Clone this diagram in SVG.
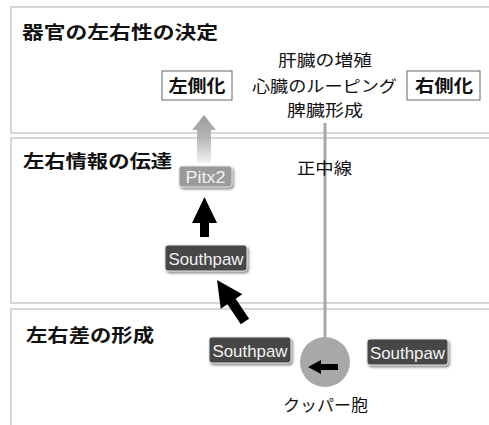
<svg xmlns="http://www.w3.org/2000/svg" width="489" height="425" viewBox="0 0 489 425">
<style>
.panel{fill:#fff;stroke:#d6d6d6;stroke-width:2}
.title{font-family:"Noto Sans CJK JP","Noto Sans CJK SC",sans-serif;font-weight:bold;font-size:18px;fill:#111}
.lbl{font-family:"Noto Sans CJK JP","Noto Sans CJK SC",sans-serif;font-size:16px;fill:#111}
.blbl{font-family:"Noto Sans CJK JP","Noto Sans CJK SC",sans-serif;font-weight:bold;font-size:17px;fill:#111}
.wbox{fill:#fff;stroke:#666;stroke-width:1}
.chip{stroke:#e6e6e6;stroke-width:1;filter:url(#sh)}
.chiptxt{font-family:"Liberation Sans",Arial,sans-serif;font-size:17px;fill:#f2f2f2;text-anchor:middle}
</style>
<defs>
<filter id="sh" x="-20%" y="-30%" width="140%" height="170%">
<feDropShadow dx="1.5" dy="2" stdDeviation="1" flood-color="#777" flood-opacity="0.8"/>
</filter>
<linearGradient id="fade" gradientUnits="userSpaceOnUse" x1="0" y1="115" x2="0" y2="163">
<stop offset="0" stop-color="#9c9c9c"/>
<stop offset="0.5" stop-color="#b8b8b8"/>
<stop offset="1" stop-color="#f4f4f4"/>
</linearGradient>
</defs>

<g id="panels">
<rect class="panel" x="11" y="7" width="500" height="126"/>
<rect class="panel" x="11" y="138" width="500" height="165"/>
<rect class="panel" x="11" y="309" width="500" height="140"/>
<text class="title" x="22" y="39" textLength="196" lengthAdjust="spacingAndGlyphs">器官の左右性の決定</text>
<text class="title" x="23" y="168" textLength="149" lengthAdjust="spacingAndGlyphs">左右情報の伝達</text>
<text class="title" x="26" y="342" textLength="128" lengthAdjust="spacingAndGlyphs">左右差の形成</text>
</g>

<g id="connectors">
<line x1="325" y1="123" x2="325" y2="345" stroke="#a8a8a8" stroke-width="3"/>
<polygon points="204,115 216,130 211,130 211,163 197,163 197,130 192,130" fill="url(#fade)"/>
<polygon points="204.5,197 217,223 209,223 209,237 200,237 200,223 192,223" fill="#000"/>
<g transform="translate(217,280) rotate(-34)">
<polygon points="0,0 13,26 5,26 5,50 -5,50 -5,26 -13,26" fill="#000"/>
</g>
</g>

<g id="organs">
<text class="lbl" x="325" y="66" text-anchor="middle" textLength="94" lengthAdjust="spacingAndGlyphs">肝臓の増殖</text>
<text class="lbl" x="324.5" y="92" text-anchor="middle" textLength="145" lengthAdjust="spacingAndGlyphs">心臓のルーピング</text>
<text class="lbl" x="325" y="116" text-anchor="middle" textLength="76" lengthAdjust="spacingAndGlyphs">脾臓形成</text>
</g>

<g id="left-side">
<rect class="wbox" x="162" y="71" width="70" height="29"/>
<text class="blbl" x="197" y="92" text-anchor="middle" textLength="57" lengthAdjust="spacingAndGlyphs">左側化</text>
</g>

<g id="right-side">
<rect class="wbox" x="407" y="71" width="73" height="29"/>
<text class="blbl" x="444" y="92" text-anchor="middle" textLength="58" lengthAdjust="spacingAndGlyphs">右側化</text>
</g>

<g id="midline">
<text class="lbl" x="324.5" y="174" text-anchor="middle" textLength="55" lengthAdjust="spacingAndGlyphs">正中線</text>
</g>

<g id="pitx2">
<rect class="chip" x="179" y="166" width="53" height="21" rx="3" fill="#9a9a9a"/>
<text class="chiptxt" x="205.5" y="182.5" textLength="40" lengthAdjust="spacingAndGlyphs">Pitx2</text>
</g>

<g id="southpaw-mid">
<rect class="chip" x="165" y="245" width="82" height="26" rx="3" fill="#464646"/>
<text class="chiptxt" x="206" y="264.5" textLength="75" lengthAdjust="spacingAndGlyphs">Southpaw</text>
</g>

<g id="southpaw-left">
<rect class="chip" x="209" y="337" width="82" height="26" rx="3" fill="#464646"/>
<text class="chiptxt" x="250" y="356.5" textLength="75" lengthAdjust="spacingAndGlyphs">Southpaw</text>
</g>

<g id="southpaw-right">
<rect class="chip" x="367" y="339" width="81" height="26" rx="3" fill="#464646"/>
<text class="chiptxt" x="407.5" y="358.5" textLength="75" lengthAdjust="spacingAndGlyphs">Southpaw</text>
</g>

<g id="kupffer">
<circle cx="325" cy="362" r="25" fill="#a8a8a8"/>
<polygon points="308,367 321,360 321,364 338,364 338,370 321,370 321,374" fill="#000"/>
<text class="lbl" x="325.5" y="411" text-anchor="middle" textLength="85" lengthAdjust="spacingAndGlyphs">クッパー胞</text>
</g>
</svg>
